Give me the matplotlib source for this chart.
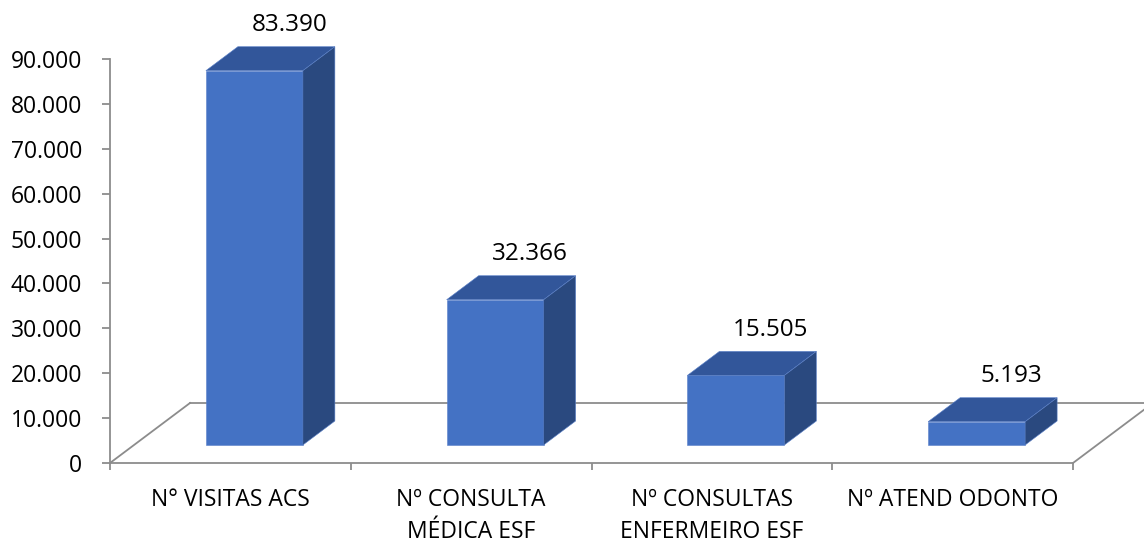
import matplotlib.pyplot as plt
from matplotlib.patches import Polygon

# Dados do gráfico
categorias = ['N° VISITAS ACS', 'Nº CONSULTA\nMÉDICA ESF',
              'Nº CONSULTAS\nENFERMEIRO ESF', 'Nº ATEND ODONTO']
valores = [83390, 32366, 15505, 5193]
rotulos = ['83.390', '32.366', '15.505', '5.193']
yticks = [0, 10000, 20000, 30000, 40000, 50000, 60000, 70000, 80000, 90000]
ytick_labels = ['0', '10.000', '20.000', '30.000', '40.000',
                '50.000', '60.000', '70.000', '80.000', '90.000']

plt.rcParams['font.family'] = ['Open Sans', 'DejaVu Sans']

W, H = 1144, 543
fig = plt.figure(figsize=(W / 100, H / 100), dpi=100)
# eixo: x de 0..4 (categorias), y de 0..90000
x0, x1, y0, y1 = 110, 1073, 463, 59
ax = fig.add_axes([x0 / W, (H - y0) / H, (x1 - x0) / W, (y0 - y1) / H])
ax.set_xlim(0, len(categorias))
ax.set_ylim(0, 90000)

# conversao pixel -> unidade de dados (efeito 3D)
px_x = (x1 - x0) / len(categorias)
px_y = (y0 - y1) / 90000
prof_x = 80 / px_x   # profundidade do piso
prof_y = 60 / px_y

cinza = '#8c8c8c'
# piso 3D
ax.plot([0, prof_x], [0, prof_y], color=cinza, lw=1.3, clip_on=False, zorder=1)
ax.plot([prof_x, len(categorias) + prof_x], [prof_y, prof_y], color=cinza, lw=1.3,
        clip_on=False, zorder=1)
ax.plot([len(categorias), len(categorias) + prof_x], [0, prof_y], color=cinza, lw=1.3,
        clip_on=False, zorder=1)

# barras 3D
largura = 97 / px_x
f0, f1 = 0.3, 0.7  # posicao da barra na profundidade
cor_frente = '#4472C4'
cor_topo = '#32569A'
cor_lado = '#2A497F'
borda = '#5a80c8'
for i, v in enumerate(valores):
    xc = i + 0.5 + f0 * prof_x
    xl, xr = xc - largura / 2, xc + largura / 2
    yb = f0 * prof_y
    yt = yb + v
    dx = (f1 - f0) * prof_x
    dy = (f1 - f0) * prof_y
    frente = Polygon([(xl, yb), (xr, yb), (xr, yt), (xl, yt)], closed=True,
                     fc=cor_frente, ec=borda, lw=0.4, clip_on=False, zorder=3)
    topo = Polygon([(xl, yt), (xr, yt), (xr + dx, yt + dy), (xl + dx, yt + dy)],
                   closed=True, fc=cor_topo, ec=borda, lw=0.4, clip_on=False, zorder=3)
    lado = Polygon([(xr, yb), (xr + dx, yb + dy), (xr + dx, yt + dy), (xr, yt)],
                   closed=True, fc=cor_lado, ec=borda, lw=0.4, clip_on=False, zorder=3)
    for p in (frente, topo, lado):
        ax.add_patch(p)
    ax.annotate(rotulos[i], (xc + dx + 3 / px_x, yt + dy), xytext=(0, 7),
                textcoords='offset points', ha='center', va='bottom',
                fontsize=17.5, color='black', annotation_clip=False)

# eixos
for s in ['top', 'right']:
    ax.spines[s].set_visible(False)
for s in ['left', 'bottom']:
    ax.spines[s].set_color(cinza)
    ax.spines[s].set_linewidth(1.3)
ax.set_yticks(yticks, ytick_labels)
ax.tick_params(axis='y', length=6, width=1.3, color=cinza, pad=14, labelsize=16.5)
ax.set_xticks(range(len(categorias) + 1), [''] * (len(categorias) + 1))
ax.tick_params(axis='x', which='major', length=5, width=1.3, color=cinza)
ax.set_xticks([i + 0.5 for i in range(len(categorias))], categorias, minor=True)
ax.tick_params(axis='x', which='minor', length=0, pad=18, labelsize=16.5)
for t in ax.get_xticklabels(minor=True):
    t.set_linespacing(1.45)
ax.patch.set_visible(False)

fig.savefig('out.png', dpi=100)
